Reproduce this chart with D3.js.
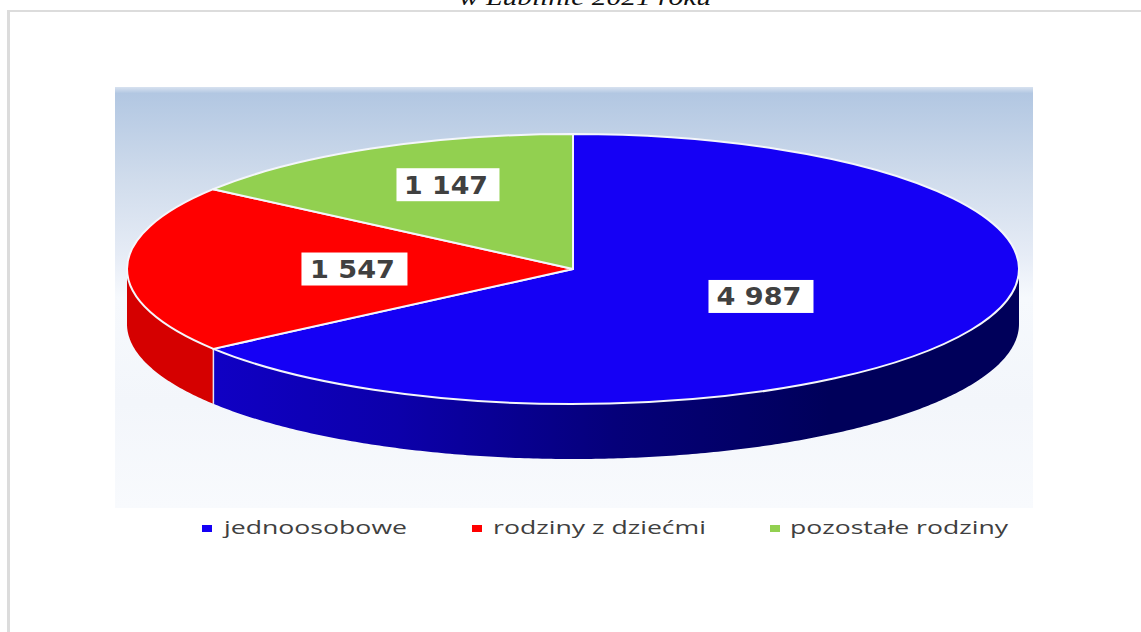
<!DOCTYPE html>
<html>
<head>
<meta charset="utf-8">
<style>
  html, body { margin: 0; padding: 0; background: #fff; overflow: hidden; }
  svg { display: block; }
</style>
<script src="https://cdn.jsdelivr.net/npm/d3@7"></script>
</head>
<body>
<script>
// chart data
const categories = ['jednoosobowe', 'rodziny z dziećmi', 'pozostałe rodziny'];
const values = [4987, 1547, 1147];
const valueLabels = ['4 987', '1 547', '1 147'];
const sliceColors = ['#1500f5', '#ff0000', '#92d050'];
const title = 'w Lublinie 2021 roku';

const w = 1141;
const h = 632;

// ellipse of the pie top, and the height of its wall
const cx = 573;
const cy = 269;
const rx = 446;
const ry = 135;
const depth = 55;

const svg = d3.select('body').append('svg')
  .attr('width', w)
  .attr('height', h);

const defs = svg.append('defs');

const panelGrad = defs.append('linearGradient')
  .attr('id', 'panel-grad')
  .attr('x1', 0).attr('y1', 0).attr('x2', 0).attr('y2', 1);
[[0, '#d8e2f0'], [0.015, '#b2c7e2'], [0.22, '#d0dcec'], [0.4, '#e6ecf6'],
  [0.5, '#f6f9fd'], [0.75, '#f3f6fb'], [1, '#f8fafd']].forEach((s) => {
  panelGrad.append('stop').attr('offset', s[0]).attr('stop-color', s[1]);
});

const wallGrad = defs.append('linearGradient')
  .attr('id', 'wall-blue')
  .attr('gradientUnits', 'userSpaceOnUse')
  .attr('x1', 213).attr('y1', 0).attr('x2', 830).attr('y2', 0);
[[0, '#1000c4'], [0.3, '#0c00aa'], [0.65, '#05007a'], [1, '#00005a']].forEach((s) => {
  wallGrad.append('stop').attr('offset', s[0]).attr('stop-color', s[1]);
});

// frame lines around the picture
svg.append('rect').attr('x', 7).attr('y', 10).attr('width', w - 7).attr('height', 2).attr('fill', '#dcdcdc');
svg.append('rect').attr('x', 7).attr('y', 10).attr('width', 3).attr('height', h - 10).attr('fill', '#dcdcdc');

svg.append('text')
  .attr('x', 585)
  .attr('y', 5)
  .attr('text-anchor', 'middle')
  .attr('font-family', '"Liberation Serif", serif')
  .attr('font-style', 'italic')
  .attr('font-size', 24)
  .attr('textLength', 252)
  .attr('lengthAdjust', 'spacingAndGlyphs')
  .attr('fill', '#111')
  .text(title);

svg.append('rect')
  .attr('x', 115).attr('y', 87)
  .attr('width', 918).attr('height', 421)
  .attr('fill', 'url(#panel-grad)');

const pie = d3.pie().sort(null).startAngle(0).endAngle(2 * Math.PI);
const slices = pie(values);

const px = (a) => cx + rx * Math.sin(a);
const py = (a) => cy - ry * Math.cos(a);

// walls: only the front half of the ellipse can be seen
const wallArea = d3.area()
  .x((a) => px(a))
  .y0((a) => py(a))
  .y1((a) => py(a) + depth);

const wallFills = ['url(#wall-blue)', '#d50000', 'none'];
const front = [Math.PI / 2, 3 * Math.PI / 2];

slices.forEach((s, i) => {
  const a0 = Math.max(s.startAngle, front[0]);
  const a1 = Math.min(s.endAngle, front[1]);
  if (a1 <= a0) return;
  const steps = d3.range(a0, a1, 0.01).concat([a1]);
  svg.append('path')
    .attr('d', wallArea(steps))
    .attr('fill', wallFills[i]);
});

// white seam where two walls meet
slices.forEach((s) => {
  if (s.endAngle > front[0] && s.endAngle < front[1]) {
    svg.append('line')
      .attr('x1', px(s.endAngle)).attr('y1', py(s.endAngle))
      .attr('x2', px(s.endAngle)).attr('y2', py(s.endAngle) + depth)
      .attr('stroke', '#e4e4f4')
      .attr('stroke-width', 1.5);
  }
});

// top of the pie is a d3 arc squashed into the ellipse
const arc = d3.arc().innerRadius(0).outerRadius(rx);
svg.append('g')
  .attr('transform', 'translate(' + cx + ',' + cy + ') scale(1,' + (ry / rx) + ')')
  .selectAll('path')
  .data(slices)
  .enter()
  .append('path')
  .attr('d', arc)
  .attr('fill', (d, i) => sliceColors[i])
  .attr('stroke', '#f4f6fb')
  .attr('stroke-width', 2)
  .attr('stroke-linejoin', 'round')
  .attr('vector-effect', 'non-scaling-stroke');

// value labels sit at a different fraction of the radius per slice, as placed in the original
const labelReach = [[0.4725, 0.45], [0.49, 0.5], [0.62, 0.7]];
const labelBoxW = [105, 106, 103];
const labelBoxH = 33;
const labelTextW = [85, 85, 84];

slices.forEach((s, i) => {
  const mid = (s.startAngle + s.endAngle) / 2;
  const lx = cx + labelReach[i][0] * rx * Math.sin(mid);
  const ly = cy - labelReach[i][1] * ry * Math.cos(mid);
  svg.append('rect')
    .attr('x', lx - labelBoxW[i] / 2)
    .attr('y', ly - labelBoxH / 2)
    .attr('width', labelBoxW[i])
    .attr('height', labelBoxH)
    .attr('fill', '#fff');
  svg.append('text')
    .attr('x', lx - 2)
    .attr('y', ly + 9)
    .attr('text-anchor', 'middle')
    .attr('font-family', '"DejaVu Sans", sans-serif')
    .attr('font-weight', 'bold')
    .attr('font-size', 24)
    .attr('textLength', labelTextW[i])
    .attr('lengthAdjust', 'spacingAndGlyphs')
    .attr('fill', '#404040')
    .text(valueLabels[i]);
});

// legend
const legendMarkX = [202, 472, 770];
const legendTextX = [224, 493, 790];
const legendTextW = [183, 213, 218];

categories.forEach((c, i) => {
  svg.append('rect')
    .attr('x', legendMarkX[i])
    .attr('y', 525)
    .attr('width', 10)
    .attr('height', 7)
    .attr('fill', sliceColors[i]);
  svg.append('text')
    .attr('x', legendTextX[i])
    .attr('y', 534)
    .attr('font-family', '"Open Sans", sans-serif')
    .attr('font-size', 19)
    .attr('textLength', legendTextW[i])
    .attr('lengthAdjust', 'spacingAndGlyphs')
    .attr('fill', '#404040')
    .text(c);
});
</script>
</body>
</html>
